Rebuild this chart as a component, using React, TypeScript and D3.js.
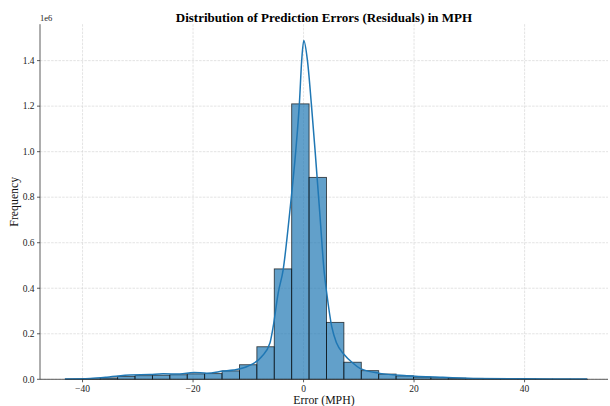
import React from "react";
import * as d3 from "d3";

// ---- data (values in units of 1e6) ----
const BIN_START = -43.1;
const BIN_WIDTH = 3.15;
const BIN_COUNTS = [
  0.001, 0.002, 0.006, 0.013, 0.016, 0.018, 0.020, 0.024, 0.025, 0.037,
  0.064, 0.143, 0.485, 1.21, 0.887, 0.250, 0.075, 0.038, 0.023, 0.015,
  0.010, 0.007, 0.005, 0.004, 0.003, 0.002, 0.0015, 0.001, 0.0007, 0.0005,
];
const KDE_X = [
  -43.2, -38.6, -35.6, -33.5, -31.4, -27.8, -25.4, -22.4, -19.9, -17.5,
  -14.5, -12.7, -10.3, -7.6, -6.1, -5.5, -4.6, -3.7, -2.5, -1.4,
  -0.76, -0.33, 0.04, 0.69, 1.41, 2.08, 3.0, 3.7, 4.2, 5.1,
  6.0, 7.3, 9.0, 10.2, 13.8, 18.7, 24.7, 30.7, 39.8, 51.3,
];
const KDE_Y = [
  0.001, 0.003, 0.009, 0.015, 0.019, 0.021, 0.024, 0.023, 0.030, 0.027,
  0.036, 0.041, 0.055, 0.099, 0.158, 0.231, 0.378, 0.480, 0.734, 1.007,
  1.21, 1.403, 1.488, 1.403, 1.21, 1.007, 0.709, 0.480, 0.378, 0.231,
  0.158, 0.11, 0.070, 0.048, 0.026, 0.016, 0.009, 0.004, 0.002, 0.001,
];
const X_TICKS = [-40, -20, 0, 20, 40];
const Y_TICKS = [0, 0.2, 0.4, 0.6, 0.8, 1.0, 1.2, 1.4];
const TITLE = "Distribution of Prediction Errors (Residuals) in MPH";
const X_LABEL = "Error (MPH)";
const Y_LABEL = "Frequency";

const W = 610;
const H = 406;
const L = 40, R = 608, T = 24.2, B = 379.3;

export default function App() {
  const x = d3.scaleLinear().domain([-47.7, 55.1]).range([L, R]);
  const y = d3.scaleLinear().domain([0, 1.56]).range([B, T]);
  const serif = "'Liberation Serif', 'Times New Roman', serif";
  const fmtX = (v: number) => (v < 0 ? "\u2212" + Math.abs(v) : String(v));
  const line = d3
    .line<number>()
    .x((_, i) => x(KDE_X[i]))
    .y((d) => y(d))
    .curve(d3.curveMonotoneX);

  return (
    <svg
      width={W}
      height={H}
      style={{ position: "absolute", left: 0, top: 0, background: "#fff" }}
      fontFamily={serif}
    >
      {/* grid */}
      <g stroke="#c8c8c8" strokeWidth={0.6} strokeDasharray="2.5,1.2" opacity={0.8}>
        {X_TICKS.map((t) => (
          <line key={"gx" + t} x1={x(t)} x2={x(t)} y1={T} y2={B} />
        ))}
        {Y_TICKS.map((t) => (
          <line key={"gy" + t} x1={L} x2={R} y1={y(t)} y2={y(t)} />
        ))}
      </g>
      {/* bars */}
      <g>
        {BIN_COUNTS.map((c, i) => {
          const x0 = x(BIN_START + i * BIN_WIDTH);
          const x1 = x(BIN_START + (i + 1) * BIN_WIDTH);
          return (
            <rect
              key={i}
              x={x0}
              y={y(c)}
              width={x1 - x0}
              height={B - y(c)}
              fill="#1f77b4"
              fillOpacity={0.7}
              stroke="#000"
              strokeOpacity={0.7}
              strokeWidth={0.9}
            />
          );
        })}
      </g>
      {/* kde */}
      <path d={line(KDE_Y) || ""} fill="none" stroke="#1f77b4" strokeWidth={1.5} />
      {/* spines */}
      <line x1={L} x2={L} y1={T} y2={B} stroke="#333" strokeWidth={0.8} />
      <line x1={L} x2={R} y1={B} y2={B} stroke="#333" strokeWidth={0.8} />
      {/* x ticks */}
      {X_TICKS.map((t) => (
        <g key={"xt" + t}>
          <line x1={x(t)} x2={x(t)} y1={B} y2={B + 3} stroke="#333" strokeWidth={0.8} />
          <text x={x(t)} y={392} textAnchor="middle" fontSize={9.5} fill="#222">
            {fmtX(t)}
          </text>
        </g>
      ))}
      {/* y ticks */}
      {Y_TICKS.map((t) => (
        <g key={"yt" + t}>
          <line x1={L - 3} x2={L} y1={y(t)} y2={y(t)} stroke="#333" strokeWidth={0.8} />
          <text x={L - 5.5} y={y(t) + 3.3} textAnchor="end" fontSize={9.5} fill="#222">
            {t.toFixed(1)}
          </text>
        </g>
      ))}
      <text x={L} y={21} fontSize={8.5} fill="#222">1e6</text>
      {/* labels */}
      <text x={(L + R) / 2} y={21.5} textAnchor="middle" fontSize={13} fontWeight="bold" fill="#000">
        {TITLE}
      </text>
      <text x={(L + R) / 2} y={403.5} textAnchor="middle" fontSize={11.8} fill="#111">
        {X_LABEL}
      </text>
      <text
        transform={`translate(17.5, ${(T + B) / 2}) rotate(-90)`}
        textAnchor="middle"
        fontSize={11.8}
        fill="#111"
      >
        {Y_LABEL}
      </text>
    </svg>
  );
}
